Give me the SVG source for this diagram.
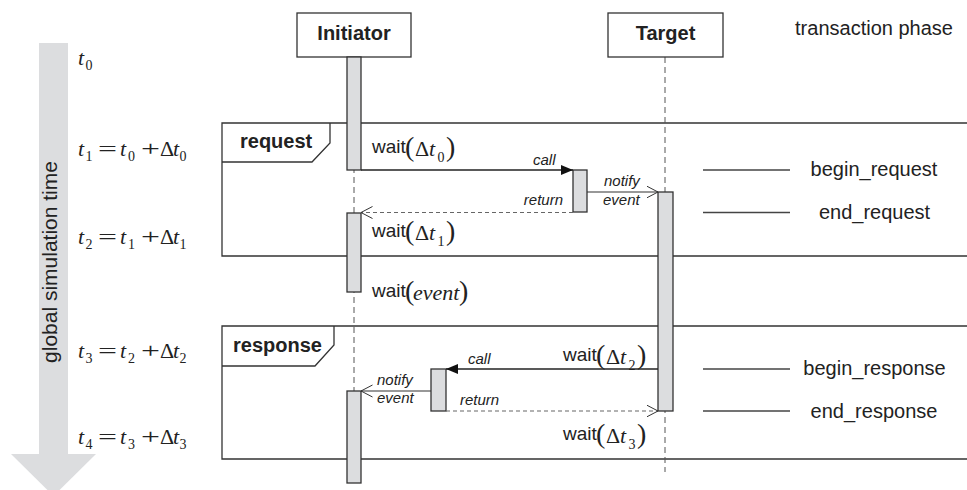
<svg xmlns="http://www.w3.org/2000/svg" width="967" height="490" viewBox="0 0 967 490">
  <style>
    .bg { fill: #ffffff; }
    .lbl { font-family: "Liberation Sans", Arial, sans-serif; fill: #222; }
    .hdr { font-family: "Liberation Sans", Arial, sans-serif; font-weight: bold; font-size: 20px; fill: #222; }
    .msg { font-family: "Liberation Sans", Arial, sans-serif; font-style: italic; font-size: 15px; fill: #222; }
    .phase { font-family: "Liberation Sans", Arial, sans-serif; font-size: 20px; fill: #222; text-anchor: middle; }
    .w { font-family: "Liberation Sans", Arial, sans-serif; font-size: 19px; fill: #222; }
    .m { font-family: "Liberation Serif", "Times New Roman", serif; font-size: 22px; fill: #222; }
    .mi { font-family: "Liberation Serif", "Times New Roman", serif; font-size: 22px; font-style: italic; fill: #222; }
    .ms { font-family: "Liberation Serif", "Times New Roman", serif; font-size: 14px; fill: #222; }
    .par { font-family: "Liberation Serif", "Times New Roman", serif; font-size: 28px; fill: #222; }
    .box { fill: #ffffff; stroke: #333; stroke-width: 1.3; }
    .act { fill: #dcdddf; stroke: #333; stroke-width: 1.3; }
    .life { stroke: #555; stroke-width: 1; stroke-dasharray: 6 4; fill: none; }
    .frame { fill: none; stroke: #333; stroke-width: 1.3; }
    .call { stroke: #222; stroke-width: 1.3; fill: none; marker-end: url(#filled); }
    .sig { stroke: #333; stroke-width: 1.2; fill: none; marker-end: url(#open); }
    .ret { stroke: #666; stroke-width: 1.2; stroke-dasharray: 4 3; fill: none; marker-end: url(#open); }
    .tick { stroke: #444; stroke-width: 1.3; }
  </style>
  <defs>
    <marker id="filled" markerUnits="userSpaceOnUse" markerWidth="13" markerHeight="11" refX="12" refY="5" orient="auto">
      <path d="M0,0 L12,5 L0,10 z" fill="#111"/>
    </marker>
    <marker id="open" markerUnits="userSpaceOnUse" markerWidth="13" markerHeight="14" refX="11.5" refY="6.5" orient="auto">
      <path d="M0,0.5 L11.5,6.5 L0,12.5" fill="none" stroke="#333" stroke-width="1"/>
    </marker>
  </defs>

  <rect class="bg" x="0" y="0" width="967" height="490"/>

  <!-- time axis -->
  <g id="time-axis">
    <rect x="39" y="43" width="29" height="412" fill="#dcdddf"/>
    <polygon points="11,454 96,454 53.5,496" fill="#dcdddf"/>
    <text class="lbl" font-size="21" text-anchor="middle" transform="translate(57,262) rotate(-90)">global simulation time</text>
  </g>

  <!-- time points -->
  <g id="time-t0">
    <text class="mi" x="78" y="65">t</text>
    <text class="ms" x="85.5" y="70">0</text>
  </g>
  <g id="time-t1" transform="translate(0,156)">
    <text class="mi" x="78" y="0">t</text><text class="ms" x="85.5" y="5">1</text>
    <text class="m" x="98" y="0" textLength="19" lengthAdjust="spacingAndGlyphs">=</text>
    <text class="mi" x="120" y="0">t</text><text class="ms" x="128" y="5">0</text>
    <text class="m" x="141" y="0" textLength="19" lengthAdjust="spacingAndGlyphs">+</text>
    <text class="m" x="160" y="0">Δ</text>
    <text class="mi" x="173" y="0">t</text><text class="ms" x="179.5" y="5">0</text>
  </g>
  <g id="time-t2" transform="translate(0,244)">
    <text class="mi" x="78" y="0">t</text><text class="ms" x="85.5" y="5">2</text>
    <text class="m" x="98" y="0" textLength="19" lengthAdjust="spacingAndGlyphs">=</text>
    <text class="mi" x="120" y="0">t</text><text class="ms" x="128" y="5">1</text>
    <text class="m" x="141" y="0" textLength="19" lengthAdjust="spacingAndGlyphs">+</text>
    <text class="m" x="160" y="0">Δ</text>
    <text class="mi" x="173" y="0">t</text><text class="ms" x="179.5" y="5">1</text>
  </g>
  <g id="time-t3" transform="translate(0,358)">
    <text class="mi" x="78" y="0">t</text><text class="ms" x="85.5" y="5">3</text>
    <text class="m" x="98" y="0" textLength="19" lengthAdjust="spacingAndGlyphs">=</text>
    <text class="mi" x="120" y="0">t</text><text class="ms" x="128" y="5">2</text>
    <text class="m" x="141" y="0" textLength="19" lengthAdjust="spacingAndGlyphs">+</text>
    <text class="m" x="160" y="0">Δ</text>
    <text class="mi" x="173" y="0">t</text><text class="ms" x="179.5" y="5">2</text>
  </g>
  <g id="time-t4" transform="translate(0,444)">
    <text class="mi" x="78" y="0">t</text><text class="ms" x="85.5" y="5">4</text>
    <text class="m" x="98" y="0" textLength="19" lengthAdjust="spacingAndGlyphs">=</text>
    <text class="mi" x="120" y="0">t</text><text class="ms" x="128" y="5">3</text>
    <text class="m" x="141" y="0" textLength="19" lengthAdjust="spacingAndGlyphs">+</text>
    <text class="m" x="160" y="0">Δ</text>
    <text class="mi" x="173" y="0">t</text><text class="ms" x="179.5" y="5">3</text>
  </g>

  <!-- phase frames -->
  <g id="frame-request">
    <path class="frame" d="M967,123 H222 V256 H967"/>
    <path class="frame" d="M330,123 V143 L312,162 H222"/>
    <text class="hdr" x="240" y="148">request</text>
  </g>
  <g id="frame-response">
    <path class="frame" d="M967,326 H222 V459 H967"/>
    <path class="frame" d="M334,326 V345 L315,366 H222"/>
    <text class="hdr" x="233" y="352">response</text>
  </g>

  <!-- lifelines -->
  <g id="initiator">
    <line class="life" x1="354" y1="57" x2="354" y2="391"/>
    <rect class="box" x="297" y="13" width="114" height="44"/>
    <text class="hdr" x="354" y="40" text-anchor="middle">Initiator</text>
    <rect class="act" x="347" y="57" width="14" height="113"/>
    <rect class="act" x="347" y="213" width="14" height="79"/>
    <rect class="act" x="347" y="391" width="14" height="92"/>
  </g>
  <g id="target">
    <line class="life" x1="665" y1="57" x2="665" y2="472"/>
    <rect class="box" x="608" y="13" width="115" height="44"/>
    <text class="hdr" x="665.5" y="40" text-anchor="middle">Target</text>
    <rect class="act" x="658" y="192" width="15" height="219"/>
  </g>
  <g id="target-call">
    <rect class="act" x="573" y="170" width="14" height="42"/>
  </g>
  <g id="initiator-call">
    <rect class="act" x="431" y="369" width="15" height="42"/>
  </g>

  <!-- messages -->
  <g id="connectors">
    <line class="call" x1="361" y1="170" x2="573" y2="170"/>
    <line class="ret" x1="573" y1="212.5" x2="361" y2="212.5"/>
    <line class="sig" x1="587" y1="192" x2="658" y2="192"/>
    <line class="call" x1="658" y1="369" x2="446" y2="369"/>
    <line class="sig" x1="431" y1="391" x2="361" y2="391"/>
    <line class="ret" x1="446" y1="411" x2="658" y2="411"/>
  </g>

  <!-- message labels -->
  <g id="message-labels">
    <text class="msg" x="533" y="165">call</text>
    <text class="msg" x="563" y="205" text-anchor="end">return</text>
    <text class="msg" x="604" y="186">notify</text>
    <text class="msg" x="603" y="205">event</text>
    <text class="msg" x="468" y="364">call</text>
    <text class="msg" x="377" y="385">notify</text>
    <text class="msg" x="377" y="403">event</text>
    <text class="msg" x="460" y="405">return</text>
  </g>

  <!-- wait statements -->
  <g id="wait-dt0" transform="translate(372,153)">
    <text class="w" x="0" y="0">wait</text>
    <text class="par" x="33" y="3">(</text>
    <text class="m" x="43" y="3">Δ</text>
    <text class="mi" x="57" y="3">t</text>
    <text class="ms" x="65.5" y="8.5">0</text>
    <text class="par" x="74" y="3">)</text>
  </g>
  <g id="wait-dt1" transform="translate(372,237)">
    <text class="w" x="0" y="0">wait</text>
    <text class="par" x="33" y="3">(</text>
    <text class="m" x="43" y="3">Δ</text>
    <text class="mi" x="57" y="3">t</text>
    <text class="ms" x="65.5" y="8.5">1</text>
    <text class="par" x="74" y="3">)</text>
  </g>
  <g id="wait-event" transform="translate(372,297)">
    <text class="w" x="0" y="0">wait</text>
    <text class="par" x="33" y="3">(</text>
    <text class="mi" x="41" y="3" font-size="21">event</text>
    <text class="par" x="87" y="3">)</text>
  </g>
  <g id="wait-dt2" transform="translate(563,361)">
    <text class="w" x="0" y="0">wait</text>
    <text class="par" x="33" y="3">(</text>
    <text class="m" x="43" y="3">Δ</text>
    <text class="mi" x="57" y="3">t</text>
    <text class="ms" x="65.5" y="8.5">2</text>
    <text class="par" x="74" y="3">)</text>
  </g>
  <g id="wait-dt3" transform="translate(563,440)">
    <text class="w" x="0" y="0">wait</text>
    <text class="par" x="33" y="3">(</text>
    <text class="m" x="43" y="3">Δ</text>
    <text class="mi" x="57" y="3">t</text>
    <text class="ms" x="65.5" y="8.5">3</text>
    <text class="par" x="74" y="3">)</text>
  </g>

  <!-- transaction phases -->
  <g id="phases">
    <text class="phase" x="874" y="35">transaction phase</text>
    <line class="tick" x1="703" y1="170" x2="790" y2="170"/>
    <text class="phase" x="874" y="176">begin_request</text>
    <line class="tick" x1="703" y1="212.5" x2="790" y2="212.5" stroke="#777"/>
    <text class="phase" x="874.5" y="219">end_request</text>
    <line class="tick" x1="703" y1="369" x2="790" y2="369" stroke="#777"/>
    <text class="phase" x="874.5" y="375">begin_response</text>
    <line class="tick" x1="703" y1="411" x2="790" y2="411"/>
    <text class="phase" x="874" y="418">end_response</text>
  </g>
</svg>
